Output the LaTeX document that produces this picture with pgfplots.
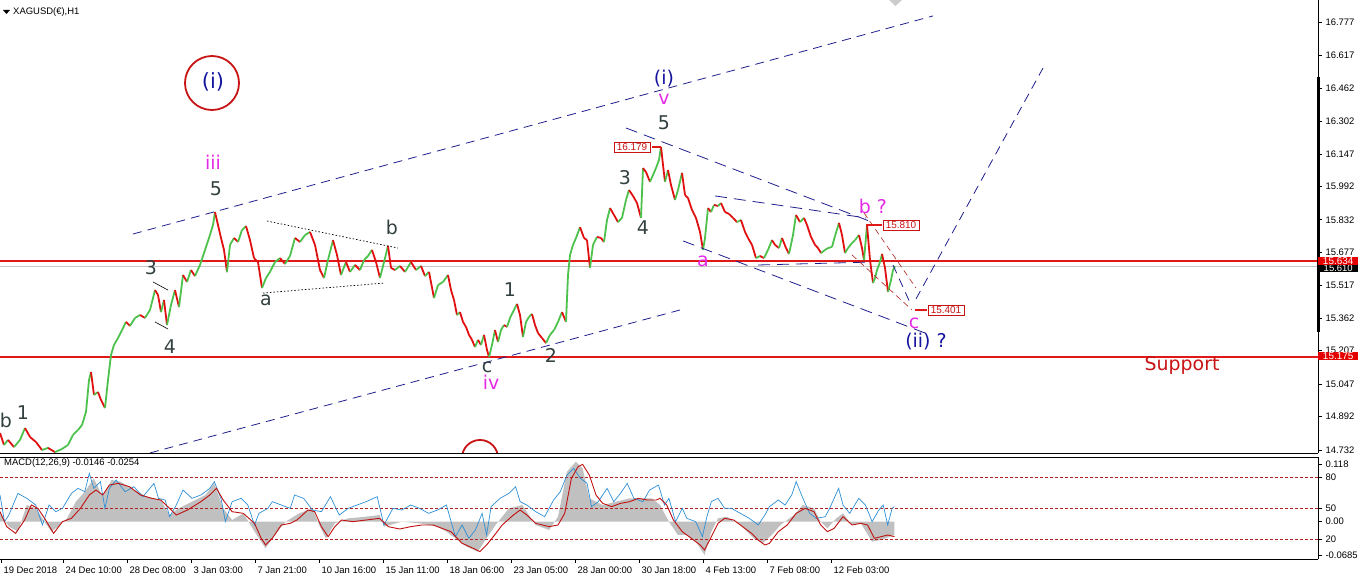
\documentclass[border=0pt]{standalone}
\usepackage{pgfplots}
\pgfplotsset{compat=1.18}
\usepackage{pgfplotstable}
\usepackage{fontspec}
\setmainfont{Liberation Sans}
\newfontfamily\wavefont{DejaVu Sans}
\definecolor{navyw}{HTML}{1414A0}
\definecolor{magw}{HTML}{E52AE5}
\definecolor{grayw}{HTML}{334040}
\definecolor{redc}{HTML}{C81414}
\definecolor{hline}{HTML}{E01818}
\definecolor{candleup}{HTML}{4CC24C}
\definecolor{candledn}{HTML}{E01010}
\definecolor{chan}{HTML}{1E1E8C}
\definecolor{macdblue}{HTML}{2D8FD5}
\definecolor{macdred}{HTML}{C01010}
\definecolor{lvl}{HTML}{B02020}
\definecolor{histgray}{HTML}{C0C0C0}

\pgfplotstableread{
x p m
0 14.813 0
4 14.756 1
8 14.780 0
14 14.746 1
20 14.780 1
25 14.837 0
30 14.794 0
36 14.770 0
42 14.732 1
48 14.742 0
55 14.722 1
62 14.737 1
68 14.756 1
73 14.804 1
78 14.828 1
82 14.851 1
86 14.914 1
89 15.066 1
91 15.105 0
94 14.995 1
98 15.009 0
101 14.971 0
105 14.933 1
108 15.066 1
111 15.186 1
114 15.234 1
118 15.267 1
122 15.305 1
126 15.344 0
130 15.325 1
135 15.363 1
140 15.377 0
145 15.363 1
150 15.401 1
155 15.496 0
158 15.473 0
161 15.391 1
164 15.449 0
167 15.329 1
171 15.425 1
175 15.496 0
179 15.415 1
183 15.568 0
187 15.535 1
191 15.592 0
195 15.563 1
200 15.616 1
205 15.688 1
209 15.745 1
213 15.807 1
215 15.869 0
218 15.807 0
221 15.745 0
224 15.688 0
227 15.582 1
230 15.712 1
234 15.745 0
238 15.726 1
242 15.783 1
246 15.802 0
250 15.735 0
254 15.649 0
258 15.630 0
262 15.506 1
266 15.554 1
270 15.583 1
275 15.630 1
280 15.649 0
285 15.621 1
290 15.659 1
295 15.745 0
300 15.726 1
305 15.759 1
310 15.774 0
315 15.712 0
320 15.592 0
324 15.554 1
328 15.640 1
333 15.735 0
337 15.664 0
341 15.568 1
346 15.630 0
350 15.583 1
355 15.616 0
360 15.592 1
364 15.640 1
368 15.659 1
372 15.688 0
376 15.630 0
380 15.554 1
384 15.630 1
388 15.707 0
391 15.602 0
395 15.592 1
400 15.611 0
405 15.583 1
411 15.630 0
416 15.592 1
421 15.611 0
425 15.563 1
429 15.583 0
434 15.458 1
438 15.520 1
443 15.535 1
448 15.568 0
451 15.496 0
454 15.449 0
457 15.377 1
460 15.391 0
463 15.344 0
466 15.320 0
469 15.282 0
472 15.258 0
475 15.224 1
478 15.258 0
481 15.234 1
484 15.282 0
487 15.210 0
489 15.176 1
492 15.234 1
495 15.305 0
498 15.248 1
501 15.305 1
504 15.329 0
507 15.320 1
510 15.363 1
514 15.401 1
517 15.430 0
520 15.377 0
523 15.272 1
526 15.344 1
529 15.368 1
532 15.382 0
535 15.329 0
538 15.291 0
542 15.267 0
546 15.243 1
550 15.282 1
554 15.305 1
558 15.344 1
562 15.391 0
566 15.344 1
568 15.568 1
570 15.664 1
573 15.712 1
576 15.745 1
580 15.797 0
584 15.745 0
587 15.735 0
590 15.602 1
593 15.712 1
597 15.750 0
601 15.745 0
604 15.726 1
607 15.831 1
610 15.888 0
614 15.855 0
618 15.821 1
622 15.841 1
626 15.927 1
629 15.974 0
633 15.946 0
637 15.912 0
641 15.841 1
643 16.079 0
646 16.060 0
650 16.013 1
653 16.046 1
656 16.079 1
659 16.118 1
661 16.180 0
663 16.094 0
665 16.013 1
668 16.070 0
671 15.998 0
675 15.927 1
678 15.974 1
682 16.056 0
685 15.950 0
688 15.936 0
692 15.879 0
696 15.841 0
700 15.774 0
703 15.688 1
705 15.745 1
708 15.888 0
711 15.869 1
714 15.903 0
718 15.898 1
721 15.912 0
725 15.869 0
729 15.860 0
733 15.841 0
737 15.821 1
741 15.831 0
745 15.774 0
748 15.745 0
752 15.712 0
756 15.649 1
760 15.659 0
764 15.649 1
768 15.688 1
772 15.735 0
775 15.712 0
779 15.697 1
782 15.745 0
786 15.697 0
789 15.669 1
793 15.759 1
796 15.855 0
800 15.821 1
804 15.841 0
807 15.807 0
811 15.750 0
815 15.712 0
818 15.697 0
821 15.673 1
825 15.688 1
828 15.697 1
832 15.702 1
835 15.755 1
839 15.817 0
842 15.759 0
845 15.673 1
848 15.697 1
852 15.721 1
855 15.735 1
859 15.759 0
862 15.697 0
864 15.640 1
867 15.807 0
870 15.640 0
873 15.530 1
875 15.554 1
877 15.592 1
880 15.630 1
882 15.669 0
885 15.602 0
888 15.487 1
891 15.544 1
893 15.592 1
895 15.610 0
}\price

\pgfplotstableread{
x v
0 0.017
8.9 -0.0102
17.9 -0.0204
26.8 0.034
35.7 0.0272
44.6 0
51.3 -0.0204
58 -0.0102
67 0.0068
75.9 0.0408
84.8 0.0612
93.8 0.0884
102.7 0.051
111.6 0.085
120.5 0.0816
133.9 0.0646
147.3 0.051
160.7 0.0442
169.6 0.0136
178.6 0.0272
192 0.0408
205.4 0.0544
214.3 0.0782
223.2 0.0272
232.1 0.0034
243.3 0.017
256.7 -0.0272
265.6 -0.0544
274.6 -0.0272
285.7 0
299.1 0.017
312.5 0.0272
319.2 -0.0068
325.9 -0.034
334.8 -0.0034
348.2 0.0068
366.1 0.0102
379.5 0.0136
383.9 -0.0102
401.8 0
419.6 -0.0034
437.5 -0.0102
446.4 -0.0204
455.4 -0.034
466.5 -0.051
477.7 -0.0612
486.6 -0.034
495.5 -0.0068
508.9 0.0272
522.3 0.034
535.7 -0.0068
549.1 -0.017
558 0.0102
567 0.102
575.9 0.1224
582.6 0.1088
589.3 0.0476
602.7 0.034
616.1 0.0408
629.5 0.0476
642.9 0.0476
651.8 0.0476
660 0.034
668.9 0
677.9 -0.0272
686.8 -0.0272
695.7 -0.0408
704.6 -0.068
711.3 -0.0204
718 0.0068
727 0.0102
740.4 -0.0068
753.8 -0.034
762.7 -0.0442
771.6 -0.0272
780.5 -0.0068
793.9 0.0136
802.9 0.034
814 0.0272
820.7 0
827.4 -0.0136
836.3 0.0068
843 0.017
852 -0.0068
860.9 -0.0034
872.1 -0.0408
881 -0.0374
894.4 -0.0272
}\hist

\pgfplotstableread{
x v
0 0.0544
4.5 0
8.9 0.0136
17.9 0.0578
26.8 0.0476
35.7 0.034
42.4 -0.0068
49.1 0.034
55.8 0.0204
62.5 0.0272
71.4 0.0578
78.1 0.068
84.8 0.0612
89.3 0.0986
93.8 0.068
100.4 0.0816
104.9 0.0272
109.4 0.068
116.1 0.085
125 0.0612
133.9 0.0714
142.9 0.051
154 0.0782
158.5 0.0476
165.2 0.0442
169.6 0.0102
176.3 0.034
183 0.0646
192 0.0476
200.9 0.0544
209.8 0.068
214.3 0.0816
221 0.0476
225.4 0
232.1 0.0408
241.1 0.0476
247.8 0.034
254.5 -0.0068
258.9 0.017
267.9 0.0272
272.3 0.0408
281.3 0.034
290.2 0.0272
294.6 0.0544
303.6 0.0476
312.5 0.0238
321.4 0.0204
330.4 0.051
339.3 0.0136
348.2 0.0272
357.1 0.034
366.1 0.0408
377.2 0.051
383.9 -0.0068
392.9 0.0272
401.8 0.0238
410.7 0.034
419.6 0.0272
428.6 0.017
437.5 0.0238
446.4 0.034
455.4 -0.0306
462.1 -0.0068
468.8 -0.034
475.4 -0.017
482.1 0.017
486.6 -0.0272
491.1 0.0306
500 0.0476
508.9 0.0578
515.6 0.0714
520.1 0.0408
526.8 0.034
535.7 0.0204
544.6 0.0102
553.6 0.0442
560.3 0.0612
567 0.0952
573.7 0.1088
580.4 0.0884
587.1 0.0782
591.5 0.0306
598.2 0.0408
607.1 0.068
613.8 0.0408
620.5 0.0578
627.2 0.0782
633.9 0.0476
642.9 0.0408
649.6 0.0646
658.5 0.0748
664.5 0.034
668.9 0.0476
675.6 0
682.3 0.0272
686.8 0.0068
695.7 0
702.4 -0.0306
706.9 0.0102
711.3 0.0408
718 0.0476
724.7 0.0272
731.4 0.0272
740.4 0.017
749.3 0.0068
758.2 -0.0068
764.9 0.0136
769.4 0.0306
778.3 0.0442
785 0.034
791.7 0.0544
796.2 0.0816
802.9 0.0476
809.6 0.017
816.3 0.0068
825.2 0.0102
829.6 0.0272
838.6 0.068
843 0.034
849.7 0.017
858.7 0.0476
865.4 0.034
872.1 0
878.8 0.0238
883.2 0.034
887.7 -0.0068
892.1 0.0272
894.4 0.0306
}\macdmain

\pgfplotstableread{
x v
0 0.0204
6.7 -0.0102
15.6 -0.0238
24.6 0.0034
31.3 0.034
37.9 0.0272
44.6 0.0068
53.6 -0.0238
62.5 0
71.4 0.0068
80.4 0.0272
89.3 0.0544
96 0.0646
102.7 0.0544
109.4 0.0748
118.3 0.0782
129.5 0.0714
140.6 0.0544
151.8 0.0476
160.7 0.0442
169.6 0.0272
176.3 0.0136
187.5 0.0238
200.9 0.0408
209.8 0.0544
216.5 0.068
223.2 0.0442
232.1 0.0204
243.3 0.017
254.5 -0.0034
261.2 -0.034
265.6 -0.0476
272.3 -0.034
281.3 -0.0068
290.2 -0.0034
296.9 0.0034
308 0.0238
314.7 0.0204
321.4 -0.0102
328.1 -0.0306
334.8 -0.0102
341.5 0.0034
352.7 0
366.1 0.0034
379.5 0.0068
388.4 -0.0102
399.6 -0.015
410.7 -0.0102
421.9 -0.0068
433 -0.0068
442 -0.0136
450.9 -0.0204
462.1 -0.0442
473.2 -0.0544
479.9 -0.0612
486.6 -0.0476
493.3 -0.0306
502.2 -0.0068
513.4 0.0136
520.1 0.0238
526.8 0.0136
535.7 -0.0034
549.1 -0.0102
558 -0.0068
564.7 0.017
571.4 0.0884
578.1 0.1122
582.6 0.117
589.3 0.0952
596 0.0544
602.7 0.0374
611.6 0.0306
620.5 0.0374
629.5 0.0408
638.4 0.0476
647.3 0.0442
656.3 0.0442
660 0.0476
666.7 0.034
673.4 0.0034
682.3 -0.0204
691.3 -0.034
700.2 -0.0476
704.6 -0.0578
711.3 -0.0306
718 -0.0034
724.7 0.0068
733.7 0.0034
742.6 -0.0102
751.5 -0.0238
758.2 -0.0374
764.9 -0.0476
769.4 -0.0442
778.3 -0.0204
787.2 -0.0068
796.2 0.017
805.1 0.0272
814 0.0204
820.7 -0.0068
827.4 -0.0204
834.1 -0.0136
843 0.0102
852 -0.0068
860.9 -0.0034
867.6 -0.0068
874.3 -0.034
881 -0.0306
887.7 -0.0272
894.4 -0.0306
}\signal

\tikzset{
  wl/.style={font=\wavefont\fontsize{19}{19}\selectfont, inner sep=0pt},
  smalltxt/.style={font=\fontsize{9.5}{10}\selectfont},
}

\begin{document}
\begin{tikzpicture}
\useasboundingbox (0bp,0bp) rectangle (1361bp,581bp);

% ---------------- price panel ----------------
\begin{axis}[
  at={(0bp,128bp)}, anchor=south west,
  width=1318bp, height=453bp, scale only axis,
  xmin=0, xmax=1318, ymin=14.7177, ymax=16.8821,
  axis x line*=bottom, axis y line*=right,
  axis line style={black, line width=0.8bp},
  xtick=\empty,
  ytick={14.732,14.892,15.047,15.207,15.362,15.517,15.677,15.832,15.992,16.147,16.302,16.462,16.617,16.777},
  yticklabels={14.732,14.892,15.047,15.207,15.362,15.517,15.677,15.832,15.992,16.147,16.302,16.462,16.617,16.777},
  tick align=outside, major tick length=4bp,
  tick style={black, line width=0.6bp},
  yticklabel style={smalltxt, anchor=west, xshift=0bp},
  colormap={updown}{color=(candledn) color=(candleup)},
  point meta min=0, point meta max=1,
]
% horizontal reference lines (thin filled bands)
\fill[gray!45] (axis cs:0,15.6083) rectangle (axis cs:1318,15.6117);
\fill[hline] (axis cs:0,15.6302) rectangle (axis cs:1318,15.6378);
\fill[hline] (axis cs:0,15.1712) rectangle (axis cs:1318,15.1788);

% price path
\addplot[mesh, shader=flat corner, line width=1.8bp, point meta=explicit] table[x=x, y=p, meta=m] {\price};

% channels
\addplot[chan, line width=0.8bp, dash pattern=on 9bp off 6bp] coordinates {(133,15.764) (933,16.806)};
\addplot[chan, line width=0.8bp, dash pattern=on 9bp off 6bp] coordinates {(150,14.718) (680,15.401)};
\addplot[black, line width=0.7bp, dash pattern=on 1.5bp off 2bp] coordinates {(267,15.826) (398,15.697)};
\addplot[black, line width=0.7bp, dash pattern=on 1.5bp off 2bp] coordinates {(263,15.482) (385,15.530)};
\addplot[black, line width=0.6bp] coordinates {(153,15.535) (168,15.496)};
\addplot[black, line width=0.6bp] coordinates {(155,15.344) (168,15.310)};
\addplot[chan, line width=0.8bp, dash pattern=on 12bp off 7bp] coordinates {(626,16.2705) (872,15.821)};
\addplot[chan, line width=0.8bp, dash pattern=on 12bp off 7bp] coordinates {(683,15.731) (925,15.291)};
\addplot[chan, line width=0.8bp, dash pattern=on 12bp off 7bp] coordinates {(715,15.946) (866,15.841)};
\addplot[chan, line width=0.8bp, dash pattern=on 12bp off 7bp] coordinates {(758,15.616) (871,15.630)};
\addplot[lvl, line width=0.6bp, dash pattern=on 6bp off 4bp] coordinates {(864,15.865) (916,15.506)};
\addplot[lvl, line width=0.6bp, dash pattern=on 6bp off 4bp] coordinates {(852,15.664) (912,15.401)};
\addplot[chan, line width=0.8bp, dash pattern=on 9bp off 6bp] coordinates {(893,15.616) (911,15.425)};
\addplot[chan, line width=0.8bp, dash pattern=on 9bp off 6bp] coordinates {(916,15.454) (1043,16.557)};

% circles
\draw[redc, line width=1.8bp] (axis cs:212,16.4855) circle[radius=27bp];
\draw[redc, line width=1.8bp] (axis cs:480,14.694) circle[radius=18bp];

% price boxes
\fill[hline] (axis cs:652,16.1772) rectangle (axis cs:661,16.1828);
\node[draw=redc, text=redc, fill=white, smalltxt, font=\fontsize{10}{11}\selectfont, inner xsep=3bp, inner ysep=1.5bp] at (axis cs:632,16.180) {16.179};
\fill[hline] (axis cs:866,15.8042) rectangle (axis cs:882,15.8098);
\node[draw=redc, text=redc, fill=white, smalltxt, font=\fontsize{10}{11}\selectfont, inner xsep=3bp, inner ysep=1.5bp] at (axis cs:901,15.807) {15.810};
\fill[hline] (axis cs:915,15.3982) rectangle (axis cs:927,15.4038);
\node[draw=redc, text=redc, fill=white, smalltxt, font=\fontsize{10}{11}\selectfont, inner xsep=3bp, inner ysep=1.5bp] at (axis cs:946,15.401) {15.401};

% wave labels
\node[wl, text=navyw, font=\wavefont\fontsize{21}{21}\selectfont] at (axis cs:213,16.490) {(i)};
\node[wl, text=magw] at (axis cs:213,16.108) {iii};
\node[wl, text=grayw] at (axis cs:216,15.979) {5};
\node[wl, text=grayw] at (axis cs:151,15.602) {3};
\node[wl, text=grayw] at (axis cs:170,15.224) {4};
\node[wl, text=grayw] at (axis cs:6,14.871) {b};
\node[wl, text=grayw] at (axis cs:23,14.909) {1};
\node[wl, text=grayw] at (axis cs:266,15.449) {a};
\node[wl, text=grayw] at (axis cs:392,15.793) {b};
\node[wl, text=grayw] at (axis cs:487,15.129) {c};
\node[wl, text=magw] at (axis cs:491,15.057) {iv};
\node[wl, text=grayw] at (axis cs:510,15.497) {1};
\node[wl, text=grayw] at (axis cs:551,15.186) {2};
\node[wl, text=grayw] at (axis cs:625,16.032) {3};
\node[wl, text=grayw] at (axis cs:643,15.793) {4};
\node[wl, text=navyw] at (axis cs:664,16.509) {(i)};
\node[wl, text=magw] at (axis cs:664,16.409) {v};
\node[wl, text=grayw] at (axis cs:664,16.294) {5};
\node[wl, text=magw] at (axis cs:703,15.635) {a};
\node[wl, text=magw] at (axis cs:873,15.898) {b ?};
\node[wl, text=magw] at (axis cs:914,15.339) {c};
\node[wl, text=navyw] at (axis cs:926,15.248) {(ii) ?};
\node[wl, text=redc] at (axis cs:1182,15.138) {Support};
\end{axis}

% right-axis highlight and price tags
\draw[black, line width=3bp] (1318bp,504bp) -- (1318bp,249bp);
\node[fill=black, text=white, smalltxt, anchor=west, inner xsep=2bp, inner ysep=0.5bp, minimum width=40bp] at (1318bp,313bp) {15.610};
\node[fill=red!90!black, text=white, smalltxt, font=\fontsize{10}{11}\selectfont, anchor=west, inner xsep=2bp, inner ysep=0.8bp, minimum width=40bp] at (1318bp,320bp) {15.634};
\node[fill=red!90!black, text=white, smalltxt, font=\fontsize{10}{11}\selectfont, anchor=west, inner xsep=2bp, inner ysep=0.8bp, minimum width=40bp] at (1318bp,225bp) {15.175};

% chart header
\fill[black] (3bp,571bp) -- (10bp,571bp) -- (6.5bp,567bp) -- cycle;
\node[smalltxt, anchor=west, inner sep=0pt] at (13bp,569bp) {XAGUSD(€),H1};
\fill[gray!40] (889bp,581bp) -- (902bp,581bp) -- (895.5bp,575bp) -- cycle;

% ---------------- MACD panel ----------------
\begin{axis}[
  at={(0bp,22bp)}, anchor=south west,
  width=1318bp, height=102bp, scale only axis,
  xmin=0, xmax=1318, ymin=-0.0762, ymax=0.132,
  axis x line*=bottom, axis y line*=right,
  axis line style={black, line width=0.8bp},
  xtick={1,63,127,191,255,319,383,447,511,575,639,703,767,831},
  xticklabels={19 Dec 2018,24 Dec 10:00,28 Dec 08:00,3 Jan 03:00,7 Jan 21:00,10 Jan 16:00,15 Jan 11:00,18 Jan 06:00,23 Jan 05:00,28 Jan 00:00,30 Jan 18:00,4 Feb 13:00,7 Feb 08:00,12 Feb 03:00},
  xticklabel style={smalltxt, anchor=north west, xshift=-1bp, yshift=0bp},
  ytick={-0.0685,-0.036,0,0.0272,0.0904,0.118},
  yticklabels={-0.0685,20,0.00,50,80,0.118},
  yticklabel style={smalltxt, anchor=west},
  tick align=outside, major tick length=4bp,
  tick style={black, line width=0.6bp},
]
\addplot[fill=histgray, draw=none] table[x=x,y=v] {\hist} \closedcycle;
\addplot[lvl, line width=0.8bp, dash pattern=on 3bp off 2bp] coordinates {(0,0.0904) (1318,0.0904)};
\addplot[lvl, line width=0.8bp, dash pattern=on 3bp off 2bp] coordinates {(0,0.0272) (1318,0.0272)};
\addplot[lvl, line width=0.8bp, dash pattern=on 3bp off 2bp] coordinates {(0,-0.036) (1318,-0.036)};
\addplot[macdblue, line width=0.7bp] table[x=x,y=v] {\macdmain};
\addplot[macdred, line width=0.9bp] table[x=x,y=v] {\signal};
\end{axis}
\draw[black, line width=0.8bp] (0bp,124bp) -- (1318bp,124bp);
\node[smalltxt, anchor=west, inner sep=0pt] at (4bp,118bp) {MACD(12,26,9) -0.0146 -0.0254};
\end{tikzpicture}
\end{document}
